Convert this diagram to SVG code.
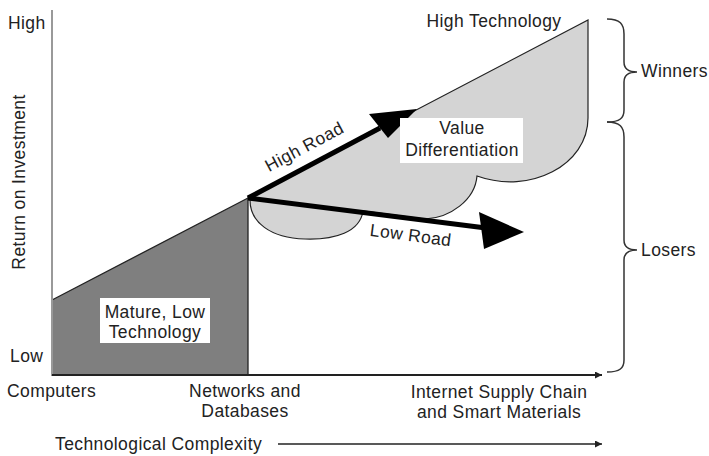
<svg xmlns="http://www.w3.org/2000/svg" width="709" height="456" viewBox="0 0 709 456">
<style>
text{font-family:"Liberation Sans",Arial,sans-serif;font-size:17.5px;fill:#222;letter-spacing:0.4px}
.c{text-anchor:middle}
.ol{stroke:#222;stroke-width:1.3;fill:none}
.brace{stroke:#333;stroke-width:1.5;fill:none}
</style>
<defs>
<marker id="ah" viewBox="0 0 10 10" refX="10" refY="5" markerWidth="7" markerHeight="7" markerUnits="userSpaceOnUse" orient="auto">
<path d="M0,0 L10,5 L0,10 Z" fill="#222"/>
</marker>
</defs>
<rect width="709" height="456" fill="#fff"/>
<g id="value-region">
<path d="M248,198 L588,20 L588,118 C588,165 530,195 477,176 C475,200 450,218 425,219 L363,211 C360,232 335,240 305,239 C270,238 250,222 250,200 Z" fill="#d4d4d4" stroke="#222" stroke-width="1.2"/>
</g>
<g id="mature-region">
<path d="M52,300 L248,198 L248,375 L52,375 Z" fill="#7f7f7f" stroke="#222" stroke-width="1.3"/>
</g>
<g id="axes">
<line x1="52" y1="10" x2="52" y2="375" stroke="#999" stroke-width="2"/>
<line x1="52" y1="375" x2="602" y2="375" stroke="#222" stroke-width="1.8" marker-end="url(#ah)"/>
<line x1="278" y1="444" x2="602" y2="444" stroke="#222" stroke-width="1.5" marker-end="url(#ah)"/>
</g>
<g id="connectors">
<g id="high-road">
<line x1="248" y1="198" x2="380" y2="128" stroke="#000" stroke-width="5"/>
<polygon points="417,109 369,114 388,138" fill="#000"/>
</g>
<g id="low-road">
<line x1="248" y1="198" x2="486" y2="228" stroke="#000" stroke-width="5"/>
<polygon points="524,232 479,212 484,249" fill="#000"/>
</g>
</g>
<g id="braces">
<path class="brace" d="M607,19 C620,19 624,24 624,34 L624,62 C624,69 629,72 637,72 C629,72 624,75 624,82 L624,110 C624,118 620,122 607,122"/>
<path class="brace" d="M607,122 C620,122 624,127 624,137 L624,240 C624,247 629,250 637,250 C629,250 624,253 624,260 L624,360 C624,368 620,372 607,372"/>
</g>
<g id="labels">
<text x="8" y="29">High</text>
<text x="10" y="362">Low</text>
<text transform="translate(25,182) rotate(-90)" class="c">Return on Investment</text>
<text x="7" y="397">Computers</text>
<text x="245" y="397" class="c">Networks and</text>
<text x="245" y="417" class="c">Databases</text>
<text x="499" y="398" class="c">Internet Supply Chain</text>
<text x="499" y="418" class="c">and Smart Materials</text>
<text x="55" y="450">Technological Complexity</text>
<text x="494" y="27" class="c">High Technology</text>
<text x="641" y="77">Winners</text>
<text x="641" y="256">Losers</text>
</g>
<g id="mature-label">
<rect x="100" y="298" width="110" height="45" fill="#fff"/>
<text x="155" y="318" class="c">Mature, Low</text>
<text x="155" y="338" class="c">Technology</text>
</g>
<g id="value-label">
<rect x="400" y="118" width="123" height="45" fill="#fff"/>
<text x="462" y="134" class="c">Value</text>
<text x="462" y="156" class="c">Differentiation</text>
</g>
<g id="road-labels">
<text transform="translate(307,152) rotate(-28)" class="c">High Road</text>
<text transform="translate(410,241) rotate(7.5)" class="c">Low Road</text>
</g>
</svg>
